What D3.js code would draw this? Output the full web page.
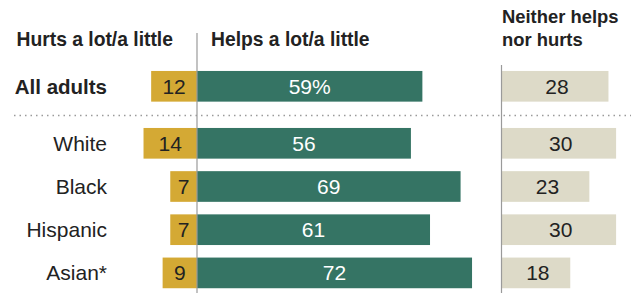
<!DOCTYPE html>
<html>
<head>
<meta charset="utf-8">
<script src="https://cdn.jsdelivr.net/npm/d3@7"></script>
<style>
  html, body { margin: 0; padding: 0; background: #fff; }
  svg { display: block; font-family: "Liberation Sans", Arial, sans-serif; }
</style>
</head>
<body>
<svg id="chart" width="631" height="293"></svg>
<script>
// ---- data ----
const categories = ["All adults", "White", "Black", "Hispanic", "Asian*"];
const hurts   = [12, 14, 7, 7, 9];
const helps   = [59, 56, 69, 61, 72];
const neither = [28, 30, 23, 30, 18];
const helpsLabels = ["59%", "56", "69", "61", "72"];
const headers = {
  hurts: ["Hurts a lot/a little"],
  helps: ["Helps a lot/a little"],
  neither: ["Neither helps", "nor hurts"]
};

// ---- layout ----
const svg = d3.select("#chart");
const W = 631, H = 293;
const colors = { hurts: "#d4a934", helps: "#357464", neither: "#dddac8" };
const axisX = 197, neitherX = 501.5;

const len = d3.scaleLinear().domain([0, 100]).range([0, 382]);

const yTop = d3.scaleBand().domain([categories[0]]).range([64.7, 107.9])
  .paddingInner(0.29).paddingOuter(0.145);
const yGroups = d3.scaleBand().domain(categories.slice(1)).range([121.7, 294.5])
  .paddingInner(0.29).paddingOuter(0.145);
const yPos = c => c === categories[0] ? yTop(c) : yGroups(c);
const bw = yGroups.bandwidth();

const rows = categories.map((c, i) => ({
  cat: c, hurts: hurts[i], helps: helps[i], neither: neither[i], helpsLabel: helpsLabels[i], i
}));

// dotted separator
svg.append("line")
  .attr("x1", 14).attr("x2", W).attr("y1", 115.5).attr("y2", 115.5)
  .attr("stroke", "#9a9a9a").attr("stroke-width", 1.3)
  .attr("stroke-dasharray", "1.5 4");

// bars
const g = svg.append("g");
g.selectAll("rect.hurts").data(rows).join("rect")
  .attr("x", d => axisX - len(d.hurts)).attr("y", d => yPos(d.cat))
  .attr("width", d => len(d.hurts)).attr("height", bw)
  .attr("fill", colors.hurts);
g.selectAll("rect.helps").data(rows).join("rect")
  .attr("x", axisX).attr("y", d => yPos(d.cat))
  .attr("width", d => len(d.helps)).attr("height", bw)
  .attr("fill", colors.helps);
g.selectAll("rect.neither").data(rows).join("rect")
  .attr("x", neitherX).attr("y", d => yPos(d.cat))
  .attr("width", d => len(d.neither)).attr("height", bw)
  .attr("fill", colors.neither);

// axis lines
svg.append("line").attr("x1", axisX).attr("x2", axisX).attr("y1", 33).attr("y2", H)
  .attr("stroke", "#9a9a9a").attr("stroke-width", 1.2);
svg.append("line").attr("x1", neitherX).attr("x2", neitherX).attr("y1", 65).attr("y2", H)
  .attr("stroke", "#9a9a9a").attr("stroke-width", 1.2);

// value labels
const valFont = 21;
g.selectAll("text.hurts").data(rows).join("text")
  .attr("x", d => axisX - len(d.hurts) / 2).attr("y", d => yPos(d.cat) + bw / 2)
  .attr("dy", "0.36em").attr("text-anchor", "middle")
  .attr("font-size", valFont).attr("fill", "#222")
  .text(d => d.hurts);
g.selectAll("text.helps").data(rows).join("text")
  .attr("x", d => axisX + len(d.helps) / 2).attr("y", d => yPos(d.cat) + bw / 2)
  .attr("dy", "0.36em").attr("text-anchor", "middle")
  .attr("font-size", valFont).attr("fill", "#fff")
  .text(d => d.helpsLabel);
g.selectAll("text.neither").data(rows).join("text")
  .attr("x", d => neitherX + len(d.neither) / 2 + 2).attr("y", d => yPos(d.cat) + bw / 2)
  .attr("dy", "0.36em").attr("text-anchor", "middle")
  .attr("font-size", valFont).attr("fill", "#222")
  .text(d => d.neither);

// category labels
g.selectAll("text.cat").data(rows).join("text")
  .attr("x", 107).attr("y", d => yPos(d.cat) + bw / 2)
  .attr("dy", "0.36em").attr("text-anchor", "end")
  .attr("font-size", d => d.i === 0 ? 20.5 : 21)
  .attr("font-weight", d => d.i === 0 ? "bold" : "normal")
  .attr("fill", "#222")
  .text(d => d.cat);

// headers
const hdr = svg.append("g").attr("font-weight", "bold").attr("font-size", 19.3).attr("fill", "#222");
hdr.append("text").attr("x", 16.5).attr("y", 45.5).text(headers.hurts[0]);
hdr.append("text").attr("x", 211).attr("y", 45.5).text(headers.helps[0]);
headers.neither.forEach((t, k) => {
  hdr.append("text").attr("x", 502).attr("y", 22.5 + k * 23.5).attr("font-size", 18.4).text(t);
});
</script>
</body>
</html>
